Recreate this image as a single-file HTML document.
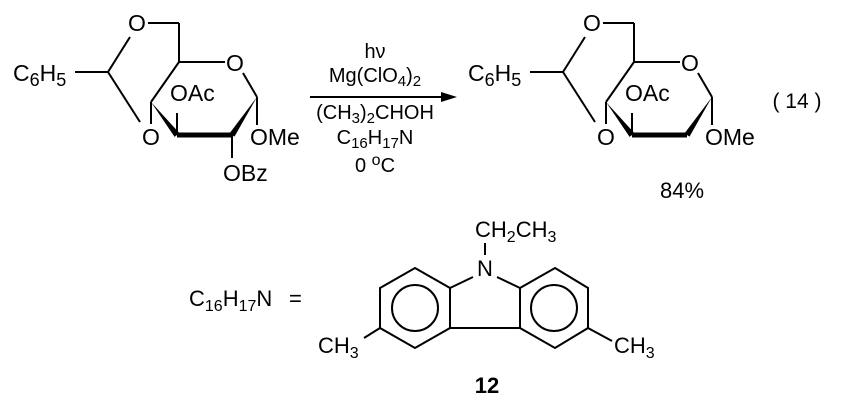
<!DOCTYPE html>
<html><head><meta charset="utf-8"><style>
html,body{margin:0;padding:0;background:#fff;}
svg{display:block;}
text{font-family:"Liberation Sans",Arial,sans-serif;fill:#000;}
</style></head><body>
<svg width="845" height="403" viewBox="0 0 845 403" xmlns="http://www.w3.org/2000/svg">
<defs>
<g id="mol" stroke="#000" stroke-width="2" fill="none">
  <line x1="148" y1="23" x2="179" y2="23"/>
  <line x1="179" y1="23" x2="179" y2="62"/>
  <line x1="179" y1="62" x2="225" y2="62"/>
  <line x1="243" y1="73" x2="257" y2="97"/>
  <line x1="257" y1="97" x2="257" y2="125"/>
  <polygon points="257,97 234.5,136.6 229.5,133.4" fill="#000" stroke="none"/>
  <line x1="232" y1="135" x2="177" y2="135" stroke-width="5"/>
  <polygon points="151,102 179.4,133.1 174.6,136.9" fill="#000" stroke="none"/>
  <line x1="151" y1="102" x2="179" y2="62"/>
  <line x1="177" y1="135" x2="177" y2="113"/>
  <line x1="151" y1="102" x2="151" y2="124"/>
  <line x1="140" y1="122" x2="108" y2="72"/>
  <line x1="108" y1="72" x2="130" y2="37"/>
  <line x1="75" y1="72" x2="108" y2="72"/>
</g>
<g id="lab" font-size="23">
  <text x="137" y="31" text-anchor="middle">O</text>
  <text x="235" y="71" text-anchor="middle">O</text>
  <text x="151" y="145" text-anchor="middle">O</text>
  <text x="170" y="101">OAc</text>
  <text x="250" y="145">OMe</text>
  <text x="13" y="81">C<tspan font-size="18" dy="5">6</tspan><tspan dy="-5">H</tspan><tspan font-size="18" dy="5">5</tspan></text>
</g>
</defs>
<use href="#mol"/>
<use href="#lab"/>
<line x1="232" y1="135" x2="232" y2="158" stroke="#000" stroke-width="2"/>
<text x="223" y="181" font-size="23">OBz</text>

<g transform="translate(455,0)">
<use href="#mol"/>
<use href="#lab"/>
</g>
<text x="682" y="198" font-size="22" text-anchor="middle">84%</text>
<text x="797" y="108" font-size="21" text-anchor="middle">( 14 )</text>

<line x1="310" y1="97" x2="445" y2="97" stroke="#000" stroke-width="2"/>
<polygon points="457,97 441,92 441,102" fill="#000"/>
<g font-size="20" text-anchor="middle">
<text x="375" y="58">hν</text>
<text x="375" y="82">Mg(ClO<tspan font-size="15" dy="4">4</tspan><tspan dy="-4">)</tspan><tspan font-size="15" dy="4">2</tspan></text>
<text x="375" y="119">(CH<tspan font-size="15" dy="4">3</tspan><tspan dy="-4">)</tspan><tspan font-size="15" dy="4">2</tspan><tspan dy="-4">CHOH</tspan></text>
<text x="375" y="144">C<tspan font-size="15" dy="4">16</tspan><tspan dy="-4">H</tspan><tspan font-size="15" dy="4">17</tspan><tspan dy="-4">N</tspan></text>
<text x="375" y="172">0 <tspan font-size="16" dy="-7">o</tspan><tspan dy="7">C</tspan></text>
</g>

<text x="189" y="306" font-size="22">C<tspan font-size="16" dy="5">16</tspan><tspan dy="-5">H</tspan><tspan font-size="16" dy="5">17</tspan><tspan dy="-5">N</tspan></text>
<text x="289" y="306" font-size="22">=</text>

<g stroke="#000" stroke-width="2" fill="none">
  <polygon points="415,268 450,288 450,328 415,348 380,328 380,288"/>
  <circle cx="415" cy="308" r="23"/>
  <polygon points="555,268 588,288 588,328 555,348 520,328 520,288"/>
  <circle cx="554" cy="308" r="23"/>
  <line x1="450" y1="328" x2="520" y2="328"/>
  <line x1="450" y1="288" x2="473" y2="277"/>
  <line x1="497" y1="277" x2="520" y2="288"/>
  <line x1="485" y1="243" x2="485" y2="255"/>
  <line x1="380" y1="328" x2="364" y2="338"/>
  <line x1="588" y1="328" x2="612" y2="341"/>
</g>
<g font-size="22">
<text x="485" y="276" text-anchor="middle">N</text>
<text x="475" y="237">CH<tspan font-size="16" dy="5">2</tspan><tspan dy="-5">CH</tspan><tspan font-size="16" dy="5">3</tspan></text>
<text x="318" y="353">CH<tspan font-size="16" dy="5">3</tspan></text>
<text x="614" y="353">CH<tspan font-size="16" dy="5">3</tspan></text>
<text x="487" y="393" font-weight="bold" text-anchor="middle">12</text>
</g>
</svg>
</body></html>
